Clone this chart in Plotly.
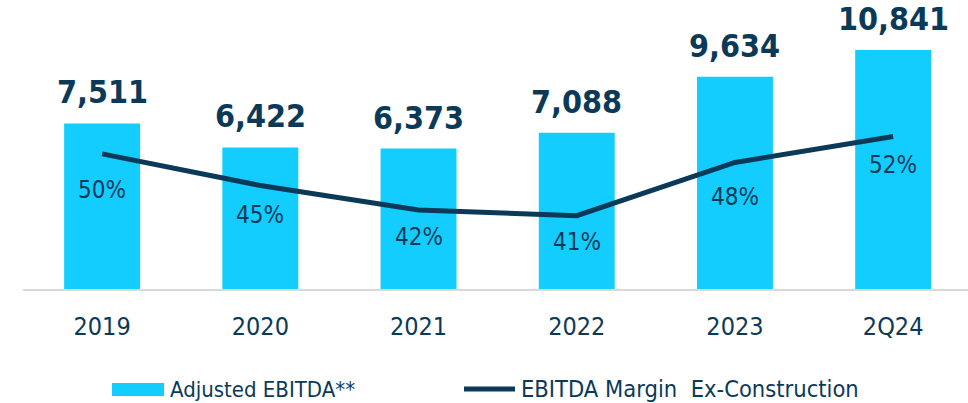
import plotly.graph_objects as go

categories = ["2019", "2020", "2021", "2022", "2023", "2Q24"]
ebitda = [7511, 6422, 6373, 7088, 9634, 10841]
margin = [49.6, 45.2, 41.8, 41.0, 48.4, 52.0]
bar_name = "Adjusted EBITDA**"
line_name = "EBITDA Margin  Ex-Construction"

FONT = "DejaVu Sans Condensed, Liberation Sans, sans-serif"
NAVY = "#0b3a58"
CYAN = "#13cdfe"

W, H = 968, 403
L, B = 23, 114
PW, PH = W - L, H - B
# vertical offsets (px) of the margin labels below the line
label_shift = [-36, -30, -27, -26, -35, -28]


def px(sx):
    return (sx - L) / PW


def py(sy):
    return (H - B - sy) / PH


fig = go.Figure()
fig.add_trace(go.Bar(
    x=categories, y=ebitda, marker=dict(color=CYAN, line=dict(width=0)),
    name=bar_name, showlegend=False, hoverinfo="skip",
))
fig.add_trace(go.Scatter(
    x=categories, y=margin, yaxis="y2", mode="lines",
    line=dict(color=NAVY, width=5), name=line_name, showlegend=False,
))

annotations = []
for i, v in enumerate(ebitda):
    annotations.append(dict(
        x=i, y=v, xref="x", yref="y", text=f"<b>{v:,}</b>", showarrow=False,
        yanchor="bottom", yshift=10, font=dict(family=FONT, size=32, color=NAVY),
    ))
for i, m in enumerate(margin):
    annotations.append(dict(
        x=i, y=m, xref="x", yref="y2", text=f"{round(m)}%", showarrow=False,
        yanchor="middle", yshift=label_shift[i], font=dict(family=FONT, size=24, color=NAVY),
    ))

# custom legend
shapes = [
    dict(type="rect", xref="paper", yref="paper", x0=px(112), x1=px(164),
         y0=py(396), y1=py(383), fillcolor=CYAN, line=dict(width=0)),
    dict(type="line", xref="paper", yref="paper", x0=px(464), x1=px(515),
         y0=py(389), y1=py(389), line=dict(color=NAVY, width=5)),
]
annotations.append(dict(xref="paper", yref="paper", x=px(168), y=py(389),
    xanchor="left", yanchor="middle", text=bar_name, showarrow=False,
    font=dict(family=FONT, size=22, color=NAVY)))
annotations.append(dict(xref="paper", yref="paper", x=px(519), y=py(389),
    xanchor="left", yanchor="middle", text=line_name, showarrow=False,
    font=dict(family=FONT, size=23.5, color=NAVY)))

fig.update_layout(
    width=W, height=H,
    margin=dict(l=L, r=0, t=0, b=B),
    paper_bgcolor="white", plot_bgcolor="white",
    bargap=0.52, showlegend=False,
    font=dict(family=FONT, color=NAVY),
    xaxis=dict(type="category", range=[-0.5, 5.473], showgrid=False, showline=True,
               linecolor="#d9d9d9", linewidth=2, ticks="", ticklen=0,
               tickfont=dict(family=FONT, size=25, color=NAVY)),
    yaxis=dict(range=[0, 13113], visible=False, showgrid=False),
    yaxis2=dict(range=[30.8, 71.0], overlaying="y", visible=False, showgrid=False),
    annotations=annotations, shapes=shapes,
)
fig.update_xaxes(ticklabelstandoff=14)
fig.write_html(
    "out.html",
    config={"displayModeBar": False, "staticPlot": True},
    post_script="document.body.style.margin='0';document.body.style.overflow='hidden';",
)
